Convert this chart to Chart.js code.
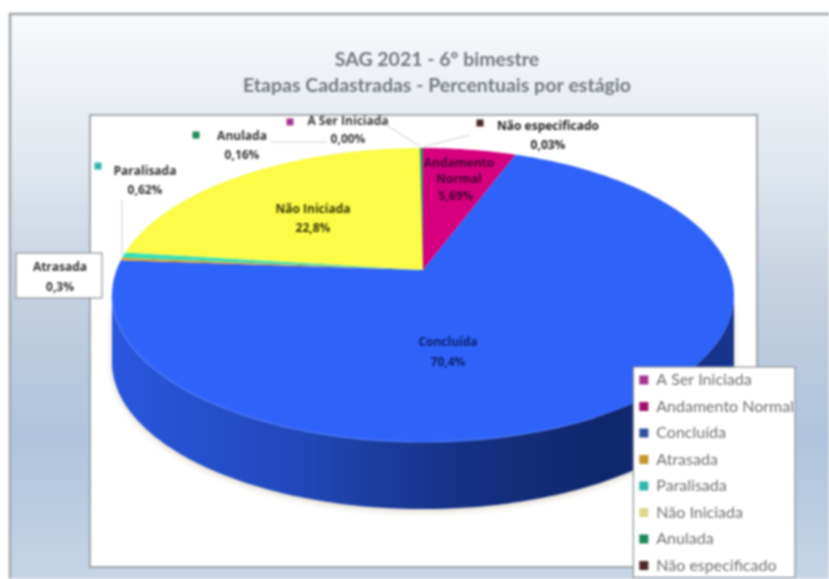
<!DOCTYPE html>
<html><head><meta charset="utf-8">
<style>html,body{margin:0;padding:0;background:#fff}canvas{display:block;filter:blur(0.8px)}</style>
<script src="https://cdn.jsdelivr.net/npm/chart.js@4"></script>
</head><body><canvas id="c" width="829" height="579"></canvas>
<script>
const categories=["A Ser Iniciada","Andamento Normal","Concluída","Atrasada","Paralisada","Não Iniciada","Anulada","Não especificado"];
const values=[0.00,5.69,70.4,0.3,0.62,22.8,0.16,0.03];
const valueLabels=["0,00%","5,69%","70,4%","0,3%","0,62%","22,8%","0,16%","0,03%"];
const titleLines=["SAG 2021 - 6º bimestre","Etapas Cadastradas - Percentuais por estágio"];
const sliceColors=["#a8329a","#d6007f","#2f62f8","#e8a020","#35dfb8","#fbfb48","#1f9a60","#4a2626"];
const legendColors=["#a3368f","#a30f6c","#2f4f9f","#c4962c","#2fb5ac","#dcd68a","#1e8a58","#4b2a28"];

// layout of the annotations (not data)
const labelLayout=[
 {lines:["A Ser Iniciada"],x:348,y:122,vy:140,marker:[290,122],color:"#3a3a3a"},
 {lines:["Andamento","Normal"],x:459,y:164,vy:197,color:"#4a0034",lh:16},
 {lines:["Concluída"],x:448,y:343,vy:363,color:"#0a2270"},
 {lines:["Atrasada"],x:60,y:268,vy:288,color:"#333",box:[16,253,86,45]},
 {lines:["Paralisada"],x:145,y:172,vy:191,marker:[98,166],color:"#333"},
 {lines:["Não Iniciada"],x:313,y:210,vy:229,color:"#3a3a00"},
 {lines:["Anulada"],x:242,y:137,vy:156,marker:[196,135],color:"#333"},
 {lines:["Não especificado"],x:548,y:127,vy:146,marker:[480,123],color:"#222"}
];
const leaders=[[[122,200],[122,256]],[[270,142],[327,142]],[[388,126],[421,147]],[[470,135],[423,147]]];
const PIE={cx:423,cy:295,rx:311,ry:147,k:0.17,depth:67};

function project(a){
  const u=Math.cos(a),v=Math.sin(a),d=1-PIE.k*v;
  return [PIE.cx+PIE.rx*u*Math.sqrt(1-PIE.k*PIE.k)/d, PIE.cy+PIE.ry*(v-PIE.k)/d];
}
const apex=()=>[PIE.cx,PIE.cy-PIE.ry*PIE.k];
function samples(a0,a1){const n=Math.max(2,Math.ceil(Math.abs(a1-a0)*60)),r=[];
  for(let i=0;i<=n;i++)r.push(project(a0+(a1-a0)*i/n));return r;}

const pie3d={id:'pie3d',
 beforeDraw(chart){
  const ctx=chart.ctx,W=chart.width,H=chart.height;
  ctx.save();
  ctx.fillStyle="#fff";ctx.fillRect(0,0,W,H);
  // frame
  const g=ctx.createLinearGradient(0,14,0,H);
  g.addColorStop(0,"#f8fafc");g.addColorStop(.25,"#e2e8ef");g.addColorStop(.5,"#c3d0e0");
  g.addColorStop(.75,"#afc4dc");g.addColorStop(1,"#c6d5e6");
  ctx.fillStyle=g;ctx.fillRect(10,14,W,H);
  ctx.strokeStyle="#a2a7aa";ctx.lineWidth=2.5;ctx.strokeRect(10,14,W+20,H+20);
  // plot box
  ctx.fillStyle="#fff";ctx.fillRect(90,115,667,452);
  ctx.strokeStyle="#8c9296";ctx.lineWidth=1.5;ctx.strokeRect(90,115,667,452);
  // side wall
  const arcs=chart.getDatasetMeta(0).data;
  const fs=Math.asin(PIE.k),fe=Math.PI-fs;
  ctx.save();
  ctx.shadowColor="rgba(150,130,80,.35)";ctx.shadowBlur=6;ctx.shadowOffsetY=2;
  arcs.forEach((el,i)=>{
    const a0=Math.max(el.startAngle,fs),a1=Math.min(el.endAngle,fe);
    if(a1<=a0)return;
    const t=samples(a0,a1);
    ctx.beginPath();
    t.forEach((p,j)=>j?ctx.lineTo(p[0],p[1]):ctx.moveTo(p[0],p[1]));
    for(let j=t.length-1;j>=0;j--)ctx.lineTo(t[j][0],t[j][1]+PIE.depth);
    ctx.closePath();
    ctx.fillStyle=sliceColors[i];ctx.fill();
  });
  ctx.restore();
  const shade=ctx.createLinearGradient(PIE.cx-PIE.rx,0,PIE.cx+PIE.rx,0);
  shade.addColorStop(0,"rgba(0,10,40,.12)");shade.addColorStop(.3,"rgba(0,10,40,.3)");
  shade.addColorStop(.55,"rgba(0,10,40,.55)");shade.addColorStop(.8,"rgba(0,10,40,.68)");shade.addColorStop(1,"rgba(0,10,40,.5)");
  arcs.forEach((el,i)=>{
    const a0=Math.max(el.startAngle,fs),a1=Math.min(el.endAngle,fe);
    if(a1<=a0)return;
    const t=samples(a0,a1);
    ctx.beginPath();
    t.forEach((p,j)=>j?ctx.lineTo(p[0],p[1]):ctx.moveTo(p[0],p[1]));
    for(let j=t.length-1;j>=0;j--)ctx.lineTo(t[j][0],t[j][1]+PIE.depth);
    ctx.closePath();
    ctx.fillStyle=shade;ctx.fill();
  });
  // top face
  arcs.forEach((el,i)=>{
    if(el.endAngle-el.startAngle<=0)return;
    const t=samples(el.startAngle,el.endAngle),c=apex();
    ctx.beginPath();ctx.moveTo(c[0],c[1]);
    t.forEach(p=>ctx.lineTo(p[0],p[1]));
    ctx.closePath();
    ctx.fillStyle=sliceColors[i];ctx.fill();
  });
  // rim highlight on the front edge
  const rim=samples(fs+0.9,fe);
  ctx.beginPath();rim.forEach((p,j)=>j?ctx.lineTo(p[0],p[1]):ctx.moveTo(p[0],p[1]));
  ctx.strokeStyle="rgba(90,135,255,.55)";ctx.lineWidth=1.5;ctx.stroke();
  // legend panel
  const L=chart.legend;
  if(L&&L.legendHitBoxes&&L.legendHitBoxes.length){
    const hb=L.legendHitBoxes,x0=hb[0].left-6,y0=hb[0].top-5,y1=hb[hb.length-1].top+hb[hb.length-1].height+4;
    ctx.fillStyle="#fff";ctx.fillRect(x0,y0,795-x0,y1-y0);
    ctx.strokeStyle="#8c9296";ctx.lineWidth=1.2;ctx.strokeRect(x0,y0,795-x0,y1-y0);
  }
  ctx.restore();
 },
 beforeDatasetsDraw(){return false;},
 afterDraw(chart){
  const ctx=chart.ctx;
  ctx.save();
  ctx.strokeStyle="#cfcfcf";ctx.lineWidth=1;
  leaders.forEach(l=>{ctx.beginPath();ctx.moveTo(l[0][0],l[0][1]);ctx.lineTo(l[1][0],l[1][1]);ctx.stroke();});
  ctx.textAlign="center";ctx.textBaseline="middle";
  ctx.font="bold 12px 'Open Sans'";
  labelLayout.forEach((a,i)=>{
    if(a.box){ctx.fillStyle="#fff";ctx.fillRect(...a.box);ctx.strokeStyle="#8c9296";ctx.lineWidth=1.2;ctx.strokeRect(...a.box);}
    if(a.marker){ctx.fillStyle=legendColors[i];ctx.fillRect(a.marker[0]-3.5,a.marker[1]-3.5,7,7);}
    ctx.fillStyle=a.color;
    a.lines.forEach((s,j)=>ctx.fillText(s,a.x,a.y+j*(a.lh||19)));
    ctx.fillText(valueLabels[i],a.x-(a.lh?3:0),a.vy);
  });
  ctx.restore();
 }
};

new Chart(document.getElementById('c'),{
 type:'pie',
 data:{labels:categories,datasets:[{data:values,backgroundColor:sliceColors,borderWidth:0}]},
 plugins:[pie3d],
 options:{
  responsive:false,animation:false,devicePixelRatio:1,
  layout:{padding:{left:70,right:25,top:47,bottom:-5}},
  plugins:{
   tooltip:{enabled:false},
   title:{display:true,text:titleLines,color:"#73787c",font:{family:"Lato",size:19.5,weight:"bold",lineHeight:1.33},padding:{top:0,bottom:10}},
   legend:{display:true,position:'right',align:'end',
     labels:{boxWidth:9,boxHeight:9,padding:10.5,color:"#707070",font:{family:"Lato",size:16},
       generateLabels(chart){return categories.map((t,i)=>({text:t,fillStyle:legendColors[i],strokeStyle:legendColors[i],lineWidth:0,index:i,fontColor:"#707070"}));}}}
  }
 }
});
</script></body></html>
